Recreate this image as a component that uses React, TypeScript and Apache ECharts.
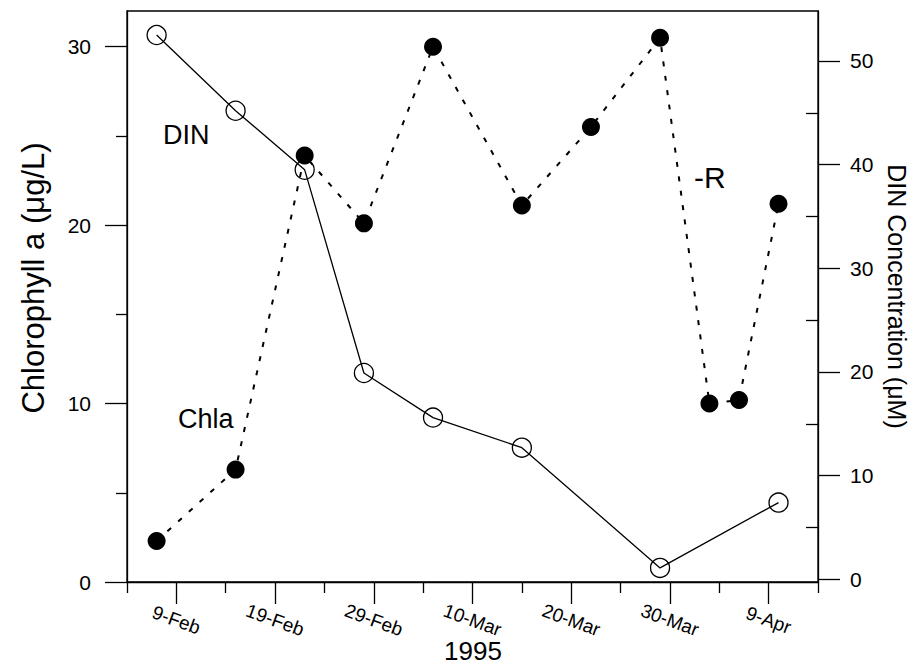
import React, { useEffect, useRef } from "react";
import * as echarts from "echarts";

// Sampling days, counted in days after 9-Feb
const chlaDays = [-2, 6, 13, 19, 26, 35, 42, 49, 54, 57, 61];
const chlaValues = [2.3, 6.3, 23.9, 20.1, 30.0, 21.1, 25.5, 30.5, 10.0, 10.2, 21.2];
const dinDays = [-2, 6, 13, 19, 26, 35, 49, 61];
const dinValues = [52.5, 45.2, 39.5, 19.9, 15.6, 12.7, 1.1, 7.4];

const xMajorTicks = [0, 10, 20, 30, 40, 50, 60];
const xTickLabels = ["9-Feb", "19-Feb", "29-Feb", "10-Mar", "20-Mar", "30-Mar", "9-Apr"];
const xMinorTicks = [-5, 5, 15, 25, 35, 45, 55, 65];
const chlaMajorTicks = [0, 10, 20, 30];
const chlaMinorTicks = [5, 15, 25];
const dinMajorTicks = [0, 10, 20, 30, 40, 50];
const dinMinorTicks = [5, 15, 25, 35, 45];

const FONT = "'Liberation Sans', Arial, Helvetica, sans-serif";
const BLACK = "#000";

export default function App() {
  const ref = useRef<HTMLDivElement>(null);
  useEffect(() => {
    if (!ref.current) return;
    const chart = echarts.init(ref.current, null, { renderer: "svg" });
    const lineStyle = { color: BLACK, width: 1.3 };
    const xRange = { min: -5, max: 65 };
    const chlaRange = { min: 0, max: 32 };
    const dinRange = { min: -0.26, max: 54.82 };
    const hiddenLabel = { show: false };
    const option: any = {
      animation: false,
      backgroundColor: "#fff",
      textStyle: { fontFamily: FONT },
      grid: {
        left: 127,
        right: 93,
        top: 11,
        bottom: 89,
        show: true,
        borderColor: BLACK,
        borderWidth: 1.3,
        backgroundColor: "transparent",
        containLabel: false,
        outerBoundsMode: "none",
      },
      xAxis: [
        {
          type: "value",
          position: "bottom",
          ...xRange,
          axisLine: { show: true, onZero: false, lineStyle },
          axisTick: { show: true, customValues: xMajorTicks, length: 22, lineStyle },
          axisLabel: {
            customValues: xMajorTicks,
            formatter: (v: number) => {
              const i = xMajorTicks.indexOf(v);
              return i >= 0 ? xTickLabels[i] : "";
            },
            rotate: -20,
            align: "center",
            verticalAlign: "middle",
            margin: 38,
            fontSize: 19,
            color: BLACK,
            fontFamily: FONT,
          },
          splitLine: { show: false },
        },
        {
          type: "value",
          position: "bottom",
          ...xRange,
          axisLine: { show: false, onZero: false },
          axisTick: { show: true, customValues: xMinorTicks, length: 11, lineStyle },
          axisLabel: hiddenLabel,
          splitLine: { show: false },
        },
      ],
      yAxis: [
        {
          type: "value",
          position: "left",
          ...chlaRange,
          axisLine: { show: true, onZero: false, lineStyle },
          axisTick: { show: true, customValues: chlaMajorTicks, length: 22, lineStyle },
          axisLabel: {
            customValues: chlaMajorTicks,
            margin: 36,
            fontSize: 21,
            color: BLACK,
            fontFamily: FONT,
          },
          splitLine: { show: false },
        },
        {
          type: "value",
          position: "left",
          ...chlaRange,
          axisLine: { show: false, onZero: false },
          axisTick: { show: true, customValues: chlaMinorTicks, length: 11, lineStyle },
          axisLabel: hiddenLabel,
          splitLine: { show: false },
        },
        {
          type: "value",
          position: "right",
          ...dinRange,
          axisLine: { show: true, onZero: false, lineStyle },
          axisTick: { show: true, customValues: dinMajorTicks, length: 22, lineStyle },
          axisLabel: {
            customValues: dinMajorTicks,
            margin: 32,
            fontSize: 21,
            color: BLACK,
            fontFamily: FONT,
          },
          splitLine: { show: false },
          name: "DIN Concentration (μM)",
          nameLocation: "middle",
          nameRotate: -90,
          nameGap: 60,
          nameTextStyle: { fontSize: 25, lineHeight: 26, color: BLACK, fontFamily: FONT },
        },
        {
          type: "value",
          position: "right",
          ...dinRange,
          axisLine: { show: false, onZero: false },
          axisTick: { show: true, inside: true, customValues: dinMinorTicks, length: 12, lineStyle },
          axisLabel: hiddenLabel,
          splitLine: { show: false },
        },
      ],
      graphic: [
        {
          type: "text",
          x: 33,
          y: 278,
          rotation: Math.PI / 2,
          style: {
            text: "Chlorophyll a (μg/L)",
            font: `31px ${FONT}`,
            fill: BLACK,
            align: "center",
            textAlign: "center",
            verticalAlign: "middle",
            textVerticalAlign: "middle",
          },
        },
        {
          type: "text",
          x: 473,
          y: 651,
          style: {
            text: "1995",
            font: `26px ${FONT}`,
            fill: BLACK,
            align: "center",
            textAlign: "center",
            verticalAlign: "middle",
            textVerticalAlign: "middle",
          },
        },
        {
          type: "text",
          x: 163,
          y: 135,
          style: { text: "DIN", font: `27px ${FONT}`, fill: BLACK, textVerticalAlign: "middle", verticalAlign: "middle" },
        },
        {
          type: "text",
          x: 178,
          y: 419,
          style: { text: "Chla", font: `27px ${FONT}`, fill: BLACK, textVerticalAlign: "middle", verticalAlign: "middle" },
        },
        {
          type: "text",
          x: 694,
          y: 177,
          style: { text: "-R", font: `30px ${FONT}`, fill: BLACK, textVerticalAlign: "middle", verticalAlign: "middle" },
        },
      ],
      series: [
        {
          name: "DIN",
          type: "line",
          xAxisIndex: 0,
          yAxisIndex: 2,
          data: dinDays.map((d, i) => [d, dinValues[i]]),
          symbol: "circle",
          symbolSize: 19,
          itemStyle: { color: "rgba(0,0,0,0)", borderColor: BLACK, borderWidth: 1.3 },
          lineStyle: { color: BLACK, width: 1.3, type: "solid" },
          z: 3,
        },
        {
          name: "Chla",
          type: "line",
          xAxisIndex: 0,
          yAxisIndex: 0,
          data: chlaDays.map((d, i) => [d, chlaValues[i]]),
          symbol: "circle",
          symbolSize: 18,
          itemStyle: { color: BLACK, borderWidth: 0 },
          lineStyle: { color: BLACK, width: 2, type: [5, 9.5] },
          z: 4,
        },
      ],
    };
    chart.setOption(option);
    return () => chart.dispose();
  }, []);
  return (
    <div
      ref={ref}
      style={{ position: "fixed", left: 0, top: 0, width: 911, height: 671, background: "#fff" }}
    />
  );
}
